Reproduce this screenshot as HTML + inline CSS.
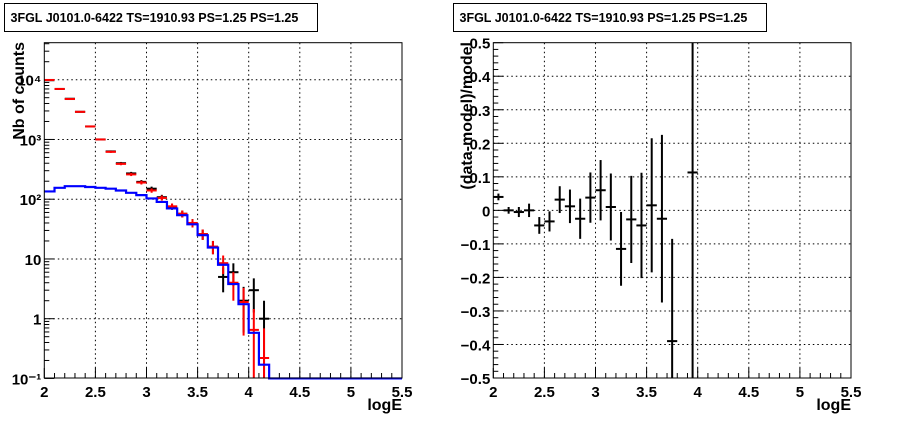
<!DOCTYPE html>
<html><head><meta charset="utf-8"><style>
body{margin:0;background:#fff;}
svg text{font-family:"Liberation Sans",Arial,sans-serif;font-weight:bold;}
</style></head><body>
<svg id="c" width="898" height="421" xmlns="http://www.w3.org/2000/svg">
<rect width="898" height="421" fill="#fff"/>
<g id="left"></g>
<g id="right"></g>
</svg>
<script>
const binCenters=[2.05,2.15,2.25,2.35,2.45,2.55,2.65,2.75,2.85,2.95,3.05,3.15,3.25,3.35,3.45,3.55,3.65,3.75,3.85,3.95,4.05,4.15];
const dataCounts=[9800,7000,4800,2900,1650,1000,630,400,270,195,150,108,75,57,40,26,16,5,6,2,3,1];
const predCounts=[9900,7000,4750,2900,1650,1000,620,390,260,190,140,105,76,57,40,26,16,8.5,4,1.9,0.65,0.22];
const modelEdges=[2.0,2.1,2.2,2.3,2.4,2.5,2.6,2.7,2.8,2.9,3.0,3.1,3.2,3.3,3.4,3.5,3.6,3.7,3.8,3.9,4.0,4.1,4.2,5.5];
const modelValues=[135,155,165,165,160,155,150,140,128,117,103,90,70,54,38,25,15.5,8,3.8,1.75,0.58,0.17,0.1];
const resCenters=[2.05,2.15,2.25,2.35,2.45,2.55,2.65,2.75,2.85,2.95,3.05,3.15,3.25,3.35,3.45,3.55,3.65,3.75,3.95];
const resValues=[0.04,0.0,-0.005,0.0,-0.045,-0.033,0.032,0.012,-0.025,0.038,0.06,0.01,-0.115,-0.027,-0.045,0.015,-0.025,-0.39,0.113];
const resErrors=[0.01,0.01,0.015,0.02,0.025,0.03,0.04,0.05,0.06,0.075,0.09,0.1,0.11,0.13,0.157,0.2,0.25,0.305,1.0];
const xTicks=["2","2.5","3","3.5","4","4.5","5","5.5"];
const logTicks=["10\u207B\u00B9","1","10","10\u00B2","10\u00B3","10\u2074"];
const resTicks=["\u22120.5","\u22120.4","\u22120.3","\u22120.2","\u22120.1","0","0.1","0.2","0.3","0.4","0.5"];

const NS="http://www.w3.org/2000/svg";
function mk(parent,tag,attrs){const e=document.createElementNS(NS,tag);for(const k in attrs)e.setAttribute(k,attrs[k]);parent.appendChild(e);return e;}
const T=42.7,B=378;
function setupPanel(g,x0,x1,titleX){
  const xs=v=>x0+(v-2)/3.5*(x1-x0);
  // title box
  const tb=mk(g,'rect',{x:titleX,y:3.5,width:313,height:28,fill:'#fff',stroke:'#000','stroke-width':1});
  
  
  const tt=mk(g,'text',{x:titleX+6,y:22,'font-size':12.5});
  tt.textContent='3FGL J0101.0-6422 TS=1910.93 PS=1.25 PS=1.25';
  
  
  // x grid + ticks
  for(let i=0;i<xTicks.length;i++){
    const v=2+0.5*i,x=xs(v);
    if(i>0&&i<xTicks.length-1){const gl=mk(g,'line',{x1:x,x2:x,y1:T,y2:B,stroke:'#000','stroke-dasharray':'1.5,3','stroke-width':1});
      }
    const t=mk(g,'text',{x:x,y:B+19,'font-size':15,'text-anchor':'middle'});t.textContent=xTicks[i];
    
  }
  for(let k=0;k<=35;k++){const x=xs(2+k*0.1);const L=(k%5==0)?10:5;
    const tl=mk(g,'line',{x1:x,x2:x,y1:B,y2:B-L,stroke:'#000','stroke-width':1});
    }
  const xt=mk(g,'text',{x:x1,y:410,'font-size':16,'text-anchor':'end'});xt.textContent='logE';
  
  return xs;
}
function frame(g,x0,x1){const f=mk(g,'rect',{x:x0,y:T,width:x1-x0,height:B-T,fill:'none',stroke:'#000','stroke-width':1});
  }

// LEFT
(function(){
  const g=document.getElementById('left');const x0=44.3,x1=402;
  const xs=setupPanel(g,x0,x1,4.5);
  const ys=v=>{const l=Math.log10(Math.max(v,0.1));return 318.7-(l)*59.75;};
  for(let i=0;i<logTicks.length;i++){const y=ys(Math.pow(10,i-1));
    if(i>0){const gl=mk(g,'line',{x1:x0,x2:x1,y1:y,y2:y,stroke:'#000','stroke-dasharray':'1.5,3'});}
    const t=mk(g,'text',{x:x0-3,y:y+6,'font-size':15,'text-anchor':'end'});t.textContent=logTicks[i];
    }
  for(let d=-1;d<=4;d++)for(let m=1;m<=9;m++){const v=m*Math.pow(10,d);const y=ys(v);if(y<T)continue;
    const tl=mk(g,'line',{x1:x0,x2:x0+(m==1?10:5),y1:y,y2:y,stroke:'#000'});}
  const yt=mk(g,'text',{x:0,y:0,'font-size':16,'text-anchor':'end',transform:'translate(24,42) rotate(-90)'});yt.textContent='Nb of counts';
  
  function cross(v,c,i,name){const xc=xs(binCenters[i]),e=Math.sqrt(v);
    const h=mk(g,'line',{x1:xc-5.1,x2:xc+5.1,y1:ys(v),y2:ys(v),stroke:c,'stroke-width':2});
    
    const vv=mk(g,'line',{x1:xc,x2:xc,y1:ys(v+e),y2:ys(v-e),stroke:c,'stroke-width':2});
    }
  for(let i=0;i<binCenters.length;i++)cross(dataCounts[i],'#000',i,'data');
  for(let i=0;i<binCenters.length;i++)cross(predCounts[i],'#f00',i,'predicted');
  let d='';for(let i=0;i<modelValues.length;i++){const y=ys(modelValues[i]);d+=(i==0?'M':'L')+xs(modelEdges[i])+','+y+'L'+xs(modelEdges[i+1])+','+y;}
  const p=mk(g,'path',{d:d,fill:'none',stroke:'#00f','stroke-width':2.2});
  
  frame(g,x0,x1);
})();

// RIGHT
(function(){
  const g=document.getElementById('right');const x0=493.3,x1=851;
  const xs=setupPanel(g,x0,x1,453.5);
  const ys=v=>B-(v+0.5)*(B-T);
  for(let i=0;i<resTicks.length;i++){const v=-0.5+0.1*i,y=ys(v);
    if(i>0&&i<resTicks.length-1){const gl=mk(g,'line',{x1:x0,x2:x1,y1:y,y2:y,stroke:'#000','stroke-dasharray':'1.5,3'});}
    const t=mk(g,'text',{x:x0-3,y:y+6,'font-size':15,'text-anchor':'end'});t.textContent=resTicks[i];
    }
  for(let k=0;k<=50;k++){const y=ys(-0.5+k*0.02);const tl=mk(g,'line',{x1:x0,x2:x0+(k%5==0?10:5),y1:y,y2:y,stroke:'#000'});
    }
  const yt=mk(g,'text',{x:0,y:0,'font-size':16,'text-anchor':'end',transform:'translate(472,42) rotate(-90)'});yt.textContent='(data-model)/model';
  
  const cl=v=>Math.max(T,Math.min(B,ys(v)));
  for(let i=0;i<resCenters.length;i++){const xc=xs(resCenters[i]),v=resValues[i],e=resErrors[i];
    const h=mk(g,'line',{x1:xc-5.1,x2:xc+5.1,y1:ys(v),y2:ys(v),stroke:'#000','stroke-width':2});
    
    const vv=mk(g,'line',{x1:xc,x2:xc,y1:cl(v+e),y2:cl(v-e),stroke:'#000','stroke-width':2});
    }
  frame(g,x0,x1);
})();
</script>
</body></html>
